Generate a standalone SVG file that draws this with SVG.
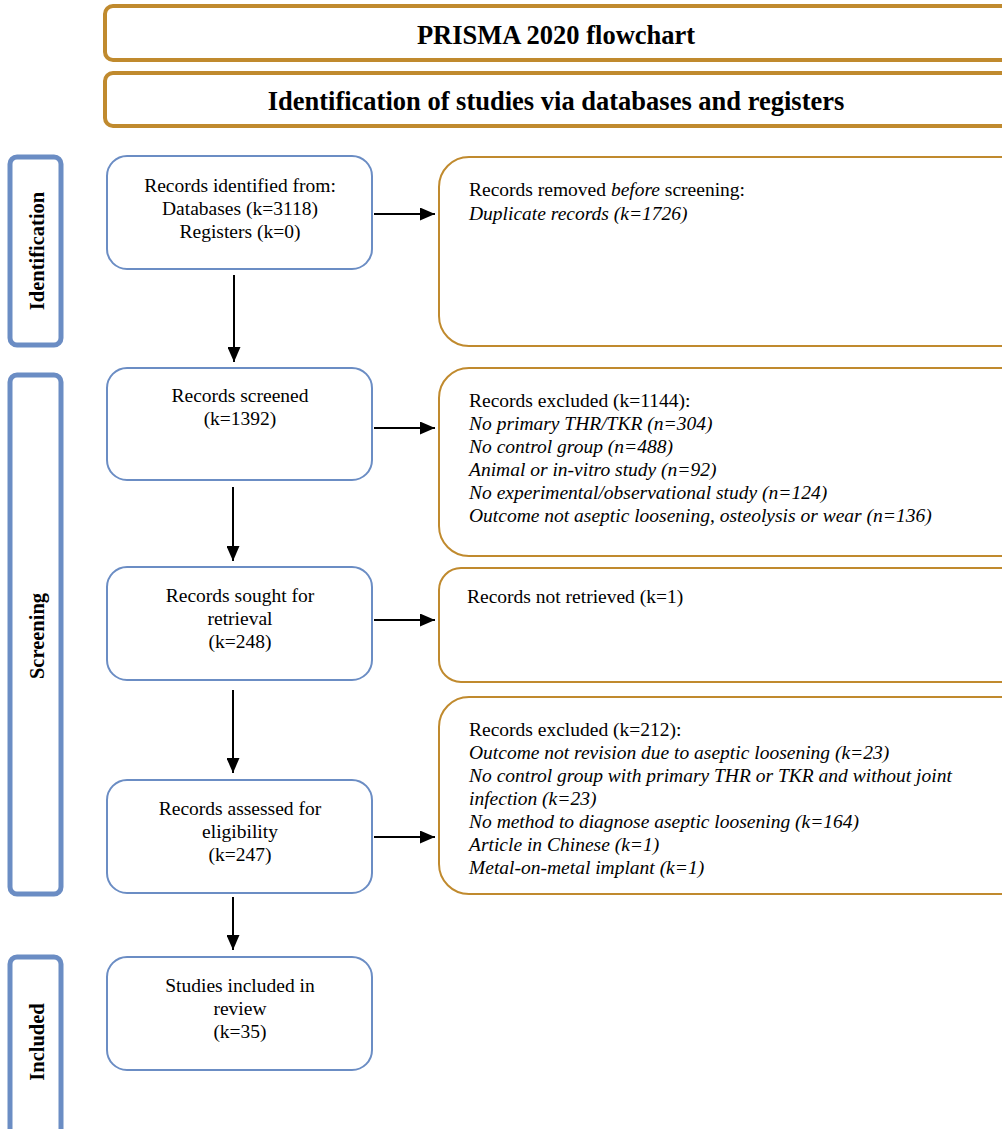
<svg xmlns="http://www.w3.org/2000/svg" width="1002" height="1129" viewBox="0 0 1002 1129">
<style>
.gold{fill:#fff;stroke:#C08A2E;stroke-width:2}
.goldh{fill:#fff;stroke:#C08A2E;stroke-width:4}
.blue{fill:#fff;stroke:#6B8DC4;stroke-width:2}
.side{fill:#fff;stroke:#6B8DC4;stroke-width:5}
text{font-family:"Liberation Serif","Times New Roman",serif;font-size:19.5px;fill:#000}
.c{text-anchor:middle}
.b{font-weight:bold}
.i{font-style:italic}
.h{font-size:26.5px;font-weight:bold;text-anchor:middle}
.s{font-size:20.5px;font-weight:bold;text-anchor:middle}
.con{stroke:#000;stroke-width:2;fill:none;marker-end:url(#ah)}
</style>
<defs>
<marker id="ah" markerWidth="15" markerHeight="13" refX="15" refY="6.5" orient="auto" markerUnits="userSpaceOnUse" viewBox="0 0 15 13">
<path d="M0,0 L15,6.5 L0,13 z" fill="#000"/>
</marker>
</defs>
<rect width="1002" height="1129" fill="#fff"/>
<g id="title1"><rect class="goldh" x="105" y="6" width="920" height="54" rx="8"/><text class="h" x="556" y="44">PRISMA 2020 flowchart</text></g>
<g id="title2"><rect class="goldh" x="105" y="73" width="920" height="53" rx="8"/><text class="h" x="556" y="110">Identification of studies via databases and registers</text></g>
<g id="side-identification"><rect class="side" x="10" y="157" width="51" height="188" rx="7"/><text class="s" transform="translate(44,251) rotate(-90)">Identification</text></g>
<g id="side-screening"><rect class="side" x="10" y="375" width="51" height="519" rx="7"/><text class="s" transform="translate(44,636) rotate(-90)">Screening</text></g>
<g id="side-included"><rect class="side" x="10" y="957" width="51" height="190" rx="7"/><text class="s" transform="translate(44,1042) rotate(-90)">Included</text></g>

<g id="n-identified"><rect class="blue" x="107" y="156" width="265" height="113" rx="20"/>
<text class="c" x="240" y="192">Records identified from:</text>
<text class="c" x="240" y="215">Databases (k=3118)</text>
<text class="c" x="240" y="238">Registers (k=0)</text></g>
<g id="n-removed"><rect class="gold" x="439" y="157" width="600" height="189" rx="30"/>
<text x="469" y="196">Records removed <tspan class="i">before</tspan> screening:</text>
<text class="i" x="469" y="220">Duplicate records (k=1726)</text></g>

<g id="n-screened"><rect class="blue" x="107" y="368" width="265" height="112" rx="20"/>
<text class="c" x="240" y="402">Records screened</text>
<text class="c" x="240" y="425">(k=1392)</text></g>
<g id="n-excluded1"><rect class="gold" x="439" y="368" width="600" height="188" rx="30"/>
<text x="469" y="407">Records excluded (k=1144):</text>
<text class="i" x="469" y="430">No primary THR/TKR (n=304)</text>
<text class="i" x="469" y="453">No control group (n=488)</text>
<text class="i" x="469" y="476">Animal or in-vitro study (n=92)</text>
<text class="i" x="469" y="499">No experimental/observational study (n=124)</text>
<text class="i" x="469" y="522">Outcome not aseptic loosening, osteolysis or wear (n=136)</text></g>

<g id="n-sought"><rect class="blue" x="107" y="567" width="265" height="113" rx="20"/>
<text class="c" x="240" y="602">Records sought for</text>
<text class="c" x="240" y="625">retrieval</text>
<text class="c" x="240" y="648">(k=248)</text></g>
<g id="n-notretrieved"><rect class="gold" x="439" y="568" width="600" height="114" rx="22"/>
<text x="467" y="603">Records not retrieved (k=1)</text></g>

<g id="n-assessed"><rect class="blue" x="107" y="780" width="265" height="113" rx="20"/>
<text class="c" x="240" y="815">Records assessed for</text>
<text class="c" x="240" y="838">eligibility</text>
<text class="c" x="240" y="861">(k=247)</text></g>
<g id="n-excluded2"><rect class="gold" x="439" y="697" width="600" height="197" rx="30"/>
<text x="469" y="736">Records excluded (k=212):</text>
<text class="i" x="469" y="759">Outcome not revision due to aseptic loosening (k=23)</text>
<text class="i" x="469" y="782">No control group with primary THR or TKR and without joint</text>
<text class="i" x="469" y="805">infection (k=23)</text>
<text class="i" x="469" y="828">No method to diagnose aseptic loosening (k=164)</text>
<text class="i" x="469" y="851">Article in Chinese (k=1)</text>
<text class="i" x="469" y="874">Metal-on-metal implant (k=1)</text></g>

<g id="n-included"><rect class="blue" x="107" y="957" width="265" height="113" rx="20"/>
<text class="c" x="240" y="992">Studies included in</text>
<text class="c" x="240" y="1015">review</text>
<text class="c" x="240" y="1038">(k=35)</text></g>

<g id="connectors">
<line class="con" x1="374" y1="214" x2="435" y2="214"/>
<line class="con" x1="374" y1="428" x2="435" y2="428"/>
<line class="con" x1="374" y1="620" x2="435" y2="620"/>
<line class="con" x1="374" y1="837" x2="435" y2="837"/>
<line class="con" x1="234" y1="275" x2="234" y2="362"/>
<line class="con" x1="233" y1="487" x2="233" y2="561"/>
<line class="con" x1="233" y1="690" x2="233" y2="773"/>
<line class="con" x1="233" y1="897" x2="233" y2="950"/>
</g>
</svg>
